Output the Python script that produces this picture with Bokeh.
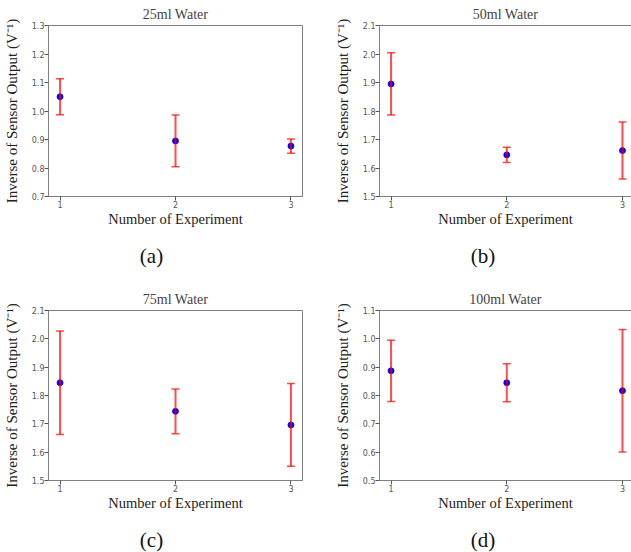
from bokeh.plotting import figure
from bokeh.layouts import row, column
from bokeh.models import (ColumnDataSource, Whisker, TeeHead, FixedTicker, Label,
                          LinearAxis, Range1d)
from bokeh.embed import file_html
from bokeh.resources import INLINE

# ---- data ----
experiments = [1, 2, 3]
titles = ["25ml Water", "50ml Water", "75ml Water", "100ml Water"]
panel_labels = ["(a)", "(b)", "(c)", "(d)"]

means_25 = [1.050, 0.895, 0.877]
errs_25 = [0.063, 0.091, 0.025]
means_50 = [1.895, 1.646, 1.661]
errs_50 = [0.109, 0.027, 0.100]
means_75 = [1.845, 1.744, 1.696]
errs_75 = [0.183, 0.079, 0.146]
means_100 = [0.887, 0.845, 0.817]
errs_100 = [0.108, 0.067, 0.216]

yticks_25 = [0.7, 0.8, 0.9, 1.0, 1.1, 1.2, 1.3]
yticks_50 = [1.5, 1.6, 1.7, 1.8, 1.9, 2.0, 2.1]
yticks_75 = [1.5, 1.6, 1.7, 1.8, 1.9, 2.0, 2.1]
yticks_100 = [0.5, 0.6, 0.7, 0.8, 0.9, 1.0, 1.1]

x_label = "Number of Experiment"
y_label = "Inverse of Sensor Output (V\u207b\u00b9)"

SERIF = "Liberation Serif"
TICK_FONT = "DejaVu Sans"
SPINE = "#808080"
TICKCOL = "#555555"


def make_panel(idx, means, errs, yticks, right_col, bottom_row):
    width = 315 if right_col else 316
    x_end = 3.078 if right_col else 3.1
    left_border = 63 if right_col else 48
    top_border = 34 if bottom_row else 25
    fig_h = 244 if bottom_row else 236
    p = figure(width=width, height=fig_h, x_range=Range1d(0.9, x_end),
               y_range=Range1d(yticks[0], yticks[-1]),
               output_backend="svg", toolbar_location=None,
               min_border_left=left_border,
               min_border_right=0 if right_col else 14,
               min_border_top=top_border,
               min_border_bottom=40)
    p.background_fill_color = "white"
    p.border_fill_color = "white"
    p.grid.visible = False

    p.title.text = titles[idx]
    p.title.text_font = SERIF
    p.title.text_font_style = "normal"
    p.title.text_font_size = "14px"
    p.title.align = "center"
    p.title.standoff = 7

    xax = p.xaxis[0]
    yax = p.yaxis[0]
    for ax in (xax, yax):
        ax.axis_line_color = SPINE
        ax.major_tick_in = 0
        ax.major_tick_out = 4
        ax.minor_tick_line_color = None
        ax.major_tick_line_color = TICKCOL
        ax.major_label_text_font = TICK_FONT
        ax.major_label_text_font_size = "8px"
        ax.major_label_text_color = TICKCOL
        ax.major_label_standoff = 0
        ax.axis_label_text_font = SERIF
        ax.axis_label_text_font_style = "normal"
        ax.axis_label_text_color = "#222222"

    xax.ticker = FixedTicker(ticks=experiments)
    xax.axis_label = x_label
    xax.axis_label_text_font_size = "14.5px"
    xax.axis_label_standoff = 0

    yax.ticker = FixedTicker(ticks=yticks)
    yax.major_label_overrides = {t: f"{t:.1f}" for t in yticks}
    yax.axis_label = y_label
    yax.axis_label_text_font_size = "15px"
    yax.axis_label_standoff = 9

    if right_col:
        p.outline_line_color = None
        top_ax = LinearAxis(ticker=FixedTicker(ticks=[]), major_label_text_font_size="0px",
                            axis_line_color=SPINE, major_tick_out=0, major_tick_in=0,
                            minor_tick_out=0, minor_tick_in=0,
                            major_label_standoff=0, axis_label_standoff=0)
        p.add_layout(top_ax, "above")
    else:
        p.outline_line_color = SPINE
        p.outline_line_alpha = 1.0

    lower = [m - e for m, e in zip(means, errs)]
    upper = [m + e for m, e in zip(means, errs)]
    src = ColumnDataSource(dict(x=experiments, y=means, lower=lower, upper=upper))

    p.scatter("x", "y", source=src, size=6, fill_color="#0000ff",
              line_color="#0000ff", line_width=0.8)
    w = Whisker(base="x", lower="lower", upper="upper", source=src,
                line_color="#ff0000", line_alpha=0.7, line_width=2, level="annotation",
                upper_head=TeeHead(size=8, line_color="#ff0000", line_alpha=0.7, line_width=1.5),
                lower_head=TeeHead(size=8, line_color="#ff0000", line_alpha=0.7, line_width=1.5))
    p.add_layout(w)

    # caption strip "(a)" .. "(d)" below the panel
    cap_h = 32 if bottom_row else 40
    c = figure(width=width, height=cap_h, x_range=Range1d(0, 1), y_range=Range1d(0, 1),
               output_backend="svg", toolbar_location=None,
               min_border_left=0, min_border_right=0, min_border_top=0, min_border_bottom=0)
    c.axis.visible = False
    c.grid.visible = False
    c.outline_line_color = None
    c.background_fill_color = "white"
    c.border_fill_color = "white"
    lab = Label(x=103.5 if right_col else 103, y=cap_h - 19, x_units="screen", y_units="screen",
                text=panel_labels[idx], text_align="center", text_baseline="middle",
                text_font=SERIF, text_font_style="normal", text_font_size="21px",
                text_color="#111111")
    c.add_layout(lab)
    return column(p, c)


pa = make_panel(0, means_25, errs_25, yticks_25, False, False)
pb = make_panel(1, means_50, errs_50, yticks_50, True, False)
pc = make_panel(2, means_75, errs_75, yticks_75, False, True)
pd = make_panel(3, means_100, errs_100, yticks_100, True, True)

layout = column(row(pa, pb), row(pc, pd))
open("out.html", "w").write(file_html(layout, INLINE))
